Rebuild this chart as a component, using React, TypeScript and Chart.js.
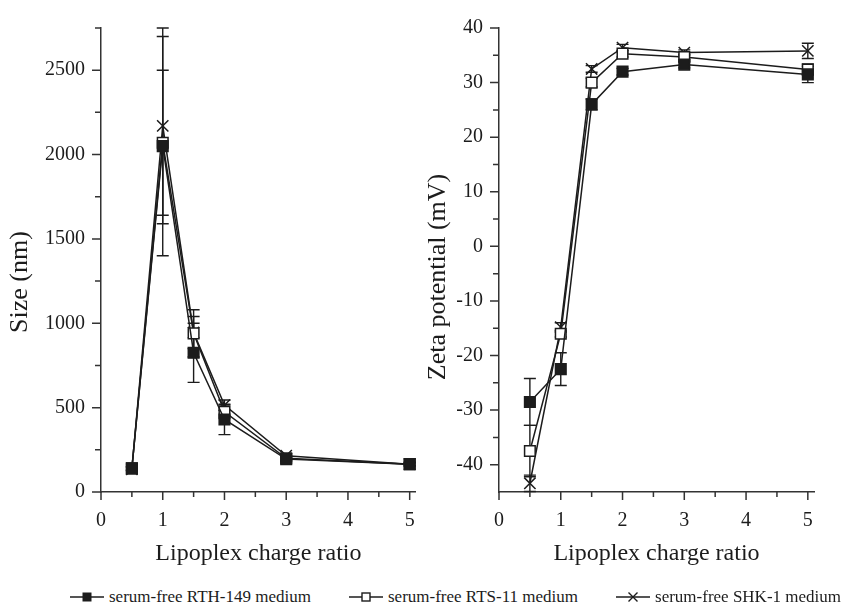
import React, { useEffect, useRef } from 'react';
import { Chart, registerables } from 'chart.js';

Chart.register(...registerables);

const FONT = "'Liberation Serif', 'Times New Roman', serif";
const INK = '#1c1c1c';

// ---- data ----
const seriesNames = ['serum-free RTH-149 medium', 'serum-free RTS-11 medium', 'serum-free SHK-1 medium'];
const ratios = [0.5, 1, 1.5, 2, 3, 5];

const sizeRTH = [140, 2050, 825, 430, 195, 165];
const sizeRTS = [140, 2070, 940, 475, 200, 165];
const sizeSHK = [135, 2170, 945, 515, 215, 165];
const sizeErrRTH = [12, 650, 175, 90, 15, 10];
const sizeErrRTS = [10, 430, 140, 40, 12, 10];
const sizeErrSHK = [10, 580, 95, 30, 12, 10];

const zetaRTH = [-28.5, -22.5, 26, 32, 33.3, 31.5];
const zetaRTS = [-37.5, -16, 30, 35.3, 34.7, 32.4];
const zetaSHK = [-43.4, -14.8, 32.5, 36.4, 35.5, 35.8];
const zetaErrRTH = [4.3, 3, 1, 0.6, 0.6, 1.5];
const zetaErrRTS = [4.7, 0.6, 0.8, 0.6, 0.5, 1];
const zetaErrSHK = [1.5, 0.8, 0.6, 0.6, 0.5, 1.4];

const xMajorTicks = [0, 1, 2, 3, 4, 5];
const xMinorTicks = [0.5, 1.5, 2.5, 3.5, 4.5];
const sizeMajorTicks = [0, 500, 1000, 1500, 2000, 2500];
const sizeMinorTicks = [250, 750, 1250, 1750, 2250, 2750];
const zetaMajorTicks = [-40, -30, -20, -10, 0, 10, 20, 30, 40];
const zetaMinorTicks = [-35, -25, -15, -5, 5, 15, 25, 35];

const xTitle = 'Lipoplex charge ratio';
const sizeTitle = 'Size (nm)';
const zetaTitle = 'Zeta potential (mV)';

// ---- plugins ----
const errorBars = {
  id: 'errorBars',
  beforeDatasetsDraw(chart: any) {
    const { ctx } = chart;
    const xs = chart.scales.x;
    const ys = chart.scales.y;
    chart.data.datasets.forEach((ds: any) => {
      const errs: number[] | undefined = ds.errors;
      if (!errs) return;
      ctx.save();
      ctx.strokeStyle = INK;
      ctx.lineWidth = 1.4;
      ds.data.forEach((p: any, i: number) => {
        const e = errs[i];
        if (!e) return;
        const x = xs.getPixelForValue(p.x);
        const y1 = ys.getPixelForValue(p.y + e);
        const y2 = ys.getPixelForValue(p.y - e);
        ctx.beginPath();
        ctx.moveTo(x, y1);
        ctx.lineTo(x, y2);
        ctx.moveTo(x - 6, y1);
        ctx.lineTo(x + 6, y1);
        ctx.moveTo(x - 6, y2);
        ctx.lineTo(x + 6, y2);
        ctx.stroke();
      });
      ctx.restore();
    });
  },
};

const axisTicks = {
  id: 'axisTicks',
  afterDraw(chart: any, _args: any, o: any) {
    const { ctx, chartArea } = chart;
    const xs = chart.scales.x;
    const ys = chart.scales.y;
    ctx.save();
    ctx.strokeStyle = '#333';
    ctx.lineWidth = 1.5;
    ctx.beginPath();
    o.yMajor.forEach((v: number) => {
      const y = ys.getPixelForValue(v);
      ctx.moveTo(chartArea.left, y);
      ctx.lineTo(chartArea.left - 9, y);
    });
    o.yMinor.forEach((v: number) => {
      const y = ys.getPixelForValue(v);
      ctx.moveTo(chartArea.left, y);
      ctx.lineTo(chartArea.left - 6, y);
    });
    o.xMajor.forEach((v: number) => {
      const x = xs.getPixelForValue(v);
      ctx.moveTo(x, chartArea.bottom);
      ctx.lineTo(x, chartArea.bottom + 8);
    });
    o.xMinor.forEach((v: number) => {
      const x = xs.getPixelForValue(v);
      ctx.moveTo(x, chartArea.bottom);
      ctx.lineTo(x, chartArea.bottom + 5);
    });
    ctx.stroke();
    ctx.restore();
  },
};

const yTitlePlugin = {
  id: 'yTitle',
  afterDraw(chart: any, _args: any, o: any) {
    const { ctx, chartArea } = chart;
    ctx.save();
    ctx.translate(o.x, (chartArea.top + chartArea.bottom) / 2 + o.dy);
    ctx.rotate(-Math.PI / 2);
    ctx.font = `${o.size}px ${FONT}`;
    ctx.fillStyle = INK;
    ctx.textAlign = 'center';
    ctx.textBaseline = 'middle';
    ctx.fillText(o.text, 0, 0);
    ctx.restore();
  },
};

const pointStyles = ['rect', 'rect', 'crossRot'];
const pointFills = [INK, '#ffffff', INK];
const pointRadii = [7.5, 7.5, 8];

function buildConfig(p: {
  values: number[][];
  errors: number[][];
  yMin: number;
  yMax: number;
  yMajor: number[];
  yMinor: number[];
  yWidth: number;
  padRight: number;
  title: string;
  titleX: number;
  titleDy: number;
}) {
  const datasets = p.values.map((vals, si) => ({
    label: seriesNames[si],
    data: ratios.map((r, i) => ({ x: r, y: vals[i] })),
    errors: p.errors[si],
    borderColor: INK,
    borderWidth: 1.5,
    pointStyle: pointStyles[si],
    pointRadius: pointRadii[si],
    pointBackgroundColor: pointFills[si],
    pointBorderColor: INK,
    pointBorderWidth: 1.5,
    showLine: true,
    tension: 0,
    clip: false,
  }));
  return {
    type: 'line',
    data: { datasets },
    plugins: [errorBars, axisTicks, yTitlePlugin],
    options: {
      animation: false,
      responsive: false,
      devicePixelRatio: 1,
      layout: { autoPadding: false, padding: { left: 0, top: 22, right: p.padRight, bottom: 0 } },
      plugins: {
        legend: { display: false },
        tooltip: { enabled: false },
        axisTicks: { xMajor: xMajorTicks, xMinor: xMinorTicks, yMajor: p.yMajor, yMinor: p.yMinor },
        yTitle: { text: p.title, x: p.titleX, dy: p.titleDy, size: 26 },
      },
      scales: {
        x: {
          type: 'linear',
          min: 0,
          max: 5.1,
          afterBuildTicks: (s: any) => {
            s.ticks = xMajorTicks.map((v) => ({ value: v }));
          },
          afterFit: (s: any) => {
            s.height = 88;
          },
          grid: { display: false, drawTicks: false },
          border: { display: true, color: '#333', width: 1.5 },
          ticks: {
            padding: 17,
            color: INK,
            font: { family: FONT, size: 20 },
            maxRotation: 0,
            autoSkip: false,
            callback: (v: any) => String(v),
          },
          title: {
            display: true,
            text: xTitle,
            color: INK,
            font: { family: FONT, size: 24 },
            padding: { top: 0, bottom: 12 },
          },
        },
        y: {
          type: 'linear',
          min: p.yMin,
          max: p.yMax,
          afterBuildTicks: (s: any) => {
            s.ticks = p.yMajor.map((v) => ({ value: v }));
          },
          afterFit: (s: any) => {
            s.width = p.yWidth;
          },
          grid: { display: false, drawTicks: false },
          border: { display: true, color: '#333', width: 1.5 },
          ticks: {
            padding: 16,
            color: INK,
            font: { family: FONT, size: 20 },
            autoSkip: false,
            callback: (v: any) => String(v),
          },
        },
      },
    },
  };
}

function Marker({ kind }: { kind: number }) {
  return (
    <svg width={34} height={14} style={{ marginRight: 5, flex: 'none' }}>
      <line x1={0} y1={7} x2={34} y2={7} stroke={INK} strokeWidth={1.4} />
      {kind === 0 && <rect x={12.5} y={2.5} width={9} height={9} fill={INK} />}
      {kind === 1 && (
        <rect x={13} y={3} width={8} height={8} fill="#fff" stroke={INK} strokeWidth={1.4} />
      )}
      {kind === 2 && (
        <path d="M12.5 2.5 L21.5 11.5 M21.5 2.5 L12.5 11.5" stroke={INK} strokeWidth={1.4} fill="none" />
      )}
    </svg>
  );
}

export default function App() {
  const leftRef = useRef<HTMLCanvasElement>(null);
  const rightRef = useRef<HTMLCanvasElement>(null);

  useEffect(() => {
    const left = new Chart(
      leftRef.current as HTMLCanvasElement,
      buildConfig({
        values: [sizeRTH, sizeRTS, sizeSHK],
        errors: [sizeErrRTH, sizeErrRTS, sizeErrSHK],
        yMin: 0,
        yMax: 2750,
        yMajor: sizeMajorTicks,
        yMinor: sizeMinorTicks,
        yWidth: 101,
        padRight: 16,
        title: sizeTitle,
        titleX: 20,
        titleDy: 22,
      }) as any
    );
    const right = new Chart(
      rightRef.current as HTMLCanvasElement,
      buildConfig({
        values: [zetaRTH, zetaRTS, zetaSHK],
        errors: [zetaErrRTH, zetaErrRTS, zetaErrSHK],
        yMin: -45,
        yMax: 40,
        yMajor: zetaMajorTicks,
        yMinor: zetaMinorTicks,
        yWidth: 77,
        padRight: 30,
        title: zetaTitle,
        titleX: 16,
        titleDy: 17,
      }) as any
    );
    return () => {
      left.destroy();
      right.destroy();
    };
  }, []);

  return (
    <div
      style={{
        position: 'absolute',
        left: 0,
        top: 0,
        width: 844,
        height: 611,
        background: '#fff',
        overflow: 'hidden',
        fontFamily: FONT,
      }}
    >
      <canvas
        ref={leftRef}
        width={432}
        height={580}
        style={{ position: 'absolute', left: 0, top: 0, width: 432, height: 580 }}
      />
      <canvas
        ref={rightRef}
        width={422}
        height={580}
        style={{ position: 'absolute', left: 422, top: 0, width: 422, height: 580 }}
      />
      <div
        style={{
          position: 'absolute',
          left: 70,
          top: 587,
          display: 'flex',
          alignItems: 'center',
          gap: 38,
          whiteSpace: 'nowrap',
          fontSize: 17,
          color: INK,
          lineHeight: '20px',
        }}
      >
        {seriesNames.map((n, i) => (
          <div key={n} style={{ display: 'flex', alignItems: 'center' }}>
            <Marker kind={i} />
            <span>{n}</span>
          </div>
        ))}
      </div>
    </div>
  );
}
